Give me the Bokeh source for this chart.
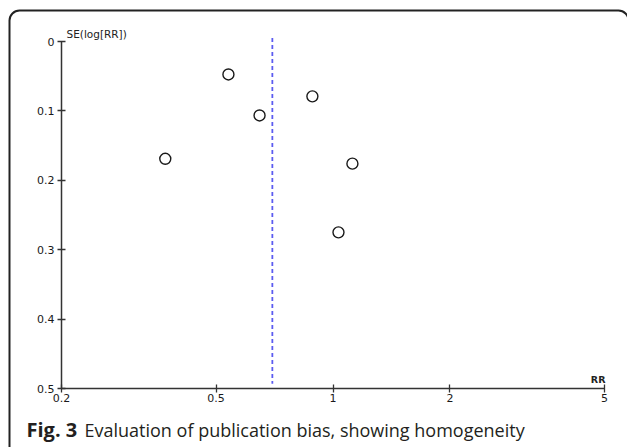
import math
from bokeh.plotting import figure
from bokeh.models import (Range1d, FixedTicker, NumeralTickFormatter, Label,
                          BoxAnnotation, LinearAxis, LogAxis, LogScale)
from bokeh.embed import file_html
from bokeh.resources import INLINE

# Data
rr = [0.37, 0.538, 0.647, 0.885, 1.122, 1.033]
se = [0.169, 0.0475, 0.1066, 0.079, 0.176, 0.275]
pooled_rr = [0.698, 0.698]
pooled_se = [-0.005, 0.493]
x_ticks = [0.2, 0.5, 1, 2, 5]
y_ticks = [0, 0.1, 0.2, 0.3, 0.4, 0.5]

# Layout (pixels): where the axes sit on the 627x447 canvas
W, H = 627, 447
AX_L, AX_R = 61, 604      # x pixel of RR=0.2 and RR=5
AX_T, AX_B = 41, 388      # y pixel of SE=0 and SE=0.5

xmin, xmax = x_ticks[0], x_ticks[-1]
ymin, ymax = y_ticks[0], y_ticks[-1]
lx0, lx1 = math.log10(xmin), math.log10(xmax)
ppd = (AX_R - AX_L) / (lx1 - lx0)
x_start = 10 ** (lx0 - AX_L / ppd)
x_end = 10 ** (lx1 + (W - AX_R) / ppd)
ppu = (AX_B - AX_T) / (ymax - ymin)
y_top = ymin - AX_T / ppu
y_bot = ymax + (H - AX_B) / ppu

p = figure(width=W, height=H, x_axis_type=None, y_axis_type=None,
           x_range=Range1d(x_start, x_end), y_range=Range1d(y_bot, y_top),
           output_backend="svg", toolbar_location=None,
           min_border=0, min_border_left=0, min_border_right=0,
           min_border_top=0, min_border_bottom=0)
p.x_scale = LogScale()
p.outline_line_color = None
p.background_fill_color = "white"
p.border_fill_color = "white"

xaxis = LogAxis(fixed_location=ymax, bounds=(xmin, xmax),
                ticker=FixedTicker(ticks=x_ticks))
yaxis = LinearAxis(fixed_location=xmin, bounds=(ymin, ymax),
                   ticker=FixedTicker(ticks=y_ticks))
for ax in (xaxis, yaxis):
    ax.axis_line_color = "#333333"
    ax.axis_line_width = 1.5
    ax.major_tick_line_color = "#333333"
    ax.major_tick_line_width = 1.3
    ax.major_tick_in = 4
    ax.major_tick_out = 4
    ax.minor_tick_line_color = None
    ax.major_label_text_font = "DejaVu Sans"
    ax.major_label_text_font_size = "11px"
    ax.major_label_text_color = "#1a1a1a"
    ax.formatter = NumeralTickFormatter(format="0.[0]")
xaxis.major_label_standoff = 1
yaxis.major_label_standoff = 3
p.add_layout(xaxis, "below")
p.add_layout(yaxis, "left")

# pooled estimate line
p.line(pooled_rr, pooled_se, line_color="#5c5cf0", line_width=1.8, line_dash="4 3")

# studies
p.scatter(rr, se, marker="circle", size=11, fill_color=None,
          line_color="#1a1a1a", line_width=1.4)

# axis titles
p.add_layout(Label(x=xmin, y=ymin, text="SE(log[RR])", x_offset=5, y_offset=2,
                   text_baseline="bottom", text_font="DejaVu Sans",
                   text_font_size="10.5px", text_color="#222222"))
p.add_layout(Label(x=xmax, y=ymax, text="RR", x_offset=1, y_offset=4,
                   text_baseline="bottom", text_align="right", text_font="DejaVu Sans",
                   text_font_size="9.5px", text_color="#222222", text_font_style="bold"))

# caption
p.add_layout(Label(x=xmin, y=ymax, text="Fig. 3", x_offset=-35, y_offset=-41,
                   text_baseline="alphabetic", text_font="Open Sans",
                   text_font_size="20px", text_font_style="bold", text_color="#231f20"))
p.add_layout(Label(x=xmin, y=ymax, text="Evaluation of publication bias, showing homogeneity",
                   x_offset=23, y_offset=-41,
                   text_baseline="alphabetic", text_font="Open Sans",
                   text_font_size="18px", text_color="#231f20"))

# rounded frame around the figure panel
p.add_layout(BoxAnnotation(left=9, right=W + 1, top=H - 10, bottom=-12,
                           left_units="screen", right_units="screen",
                           top_units="screen", bottom_units="screen",
                           fill_color=None, fill_alpha=0, line_color="#222222",
                           line_width=2, line_alpha=1, border_radius=10))

open("out.html", "w").write(file_html(p, INLINE))
